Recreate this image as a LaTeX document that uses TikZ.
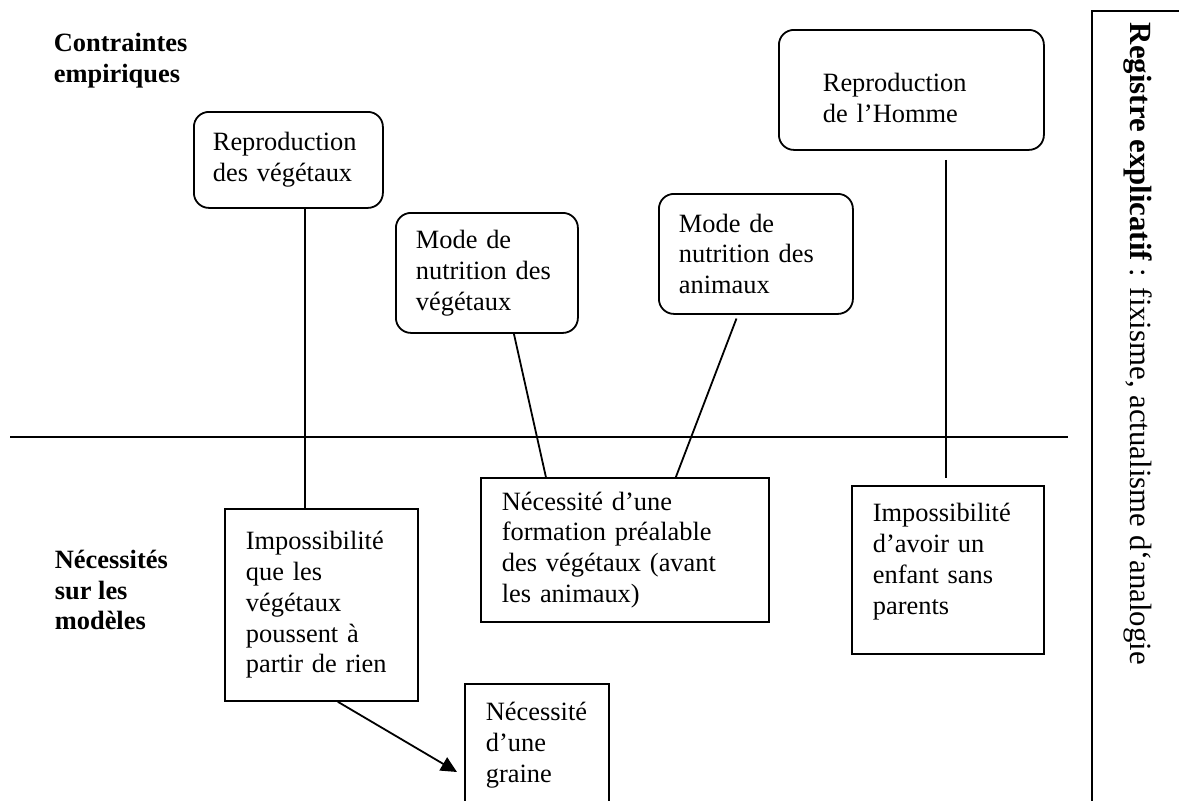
\documentclass[tikz,border=0pt]{standalone}
\usepackage{fontspec}
\setmainfont{Liberation Serif}
\usepackage{tikz}
\usetikzlibrary{arrows.meta}

\newcommand{\cadrefont}{\fontsize{26.4}{30.8}\selectfont}
\newcommand{\registrefont}{\fontsize{30.8}{36}\selectfont}

\begin{document}
\begin{tikzpicture}[
    x=1pt, y=-1pt,
    line width=1.8pt,
    empirique/.style={draw, rounded corners=15pt, anchor=north west,
                      inner sep=0pt, align=left, font=\cadrefont},
    necessite/.style={draw, anchor=north west, inner sep=0pt,
                      align=left, font=\cadrefont},
    row_label/.style={anchor=west, inner sep=0pt, align=left,
                      font=\cadrefont\bfseries},
    link/.style={-},
    implies/.style={-{Triangle[length=16pt,width=15pt]}},
]
\useasboundingbox (0,0) rectangle (1179,801);
\clip (0,0) rectangle (1179,801);

% Row labels
\node[row_label] (contraintes) at (53,61) {Contraintes\\empiriques};
\node[row_label] (necessites) at (54,590) {Nécessités\\sur les\\modèles};

% Empirical constraints (upper row)
\node[empirique, minimum width=189pt, minimum height=96pt, text width=151pt]
    (repveg) at (193,111) {Reproduction\\des végétaux};
\node[empirique, minimum width=182pt, minimum height=120pt, text width=142pt]
    (nutveg) at (395,212) {Mode de\\nutrition des\\végétaux};
\node[empirique, minimum width=194pt, minimum height=120pt, text width=154pt]
    (nutani) at (658,193) {Mode de\\nutrition des\\animaux};
\node[empirique, minimum width=265pt, minimum height=120pt, text width=177pt]
    (rephom) at (778,29) {\rule{0pt}{34pt}Reproduction\\de l’Homme};

% Separator
\draw (10,437) -- (1068,437);

% Necessities on the models (lower row)
\node[necessite, minimum width=193pt, minimum height=192pt, text width=151pt]
    (impveg) at (224,508)
    {Impossibilité\\que les\\végétaux\\poussent à\\partir de rien};
\node[necessite, minimum width=288pt, minimum height=144pt, text width=246pt]
    (formation) at (480,477)
    {Nécessité d’une\\formation préalable\\des végétaux (avant\\les animaux)};
\node[necessite, minimum width=192pt, minimum height=168pt, text width=150pt]
    (impenf) at (851,485)
    {Impossibilité\\d’avoir un\\enfant sans\\parents\rule[-22pt]{0pt}{22pt}};
\node[necessite, minimum width=144pt, minimum height=122pt, text width=102pt]
    (graine) at (464,683) {Nécessité\\d’une\\graine};

% Links between the rows
\draw[link] ([xshift=16.5pt]repveg.south) -- ([xshift=-16.5pt]impveg.north);
\draw[link] ([xshift=27pt]nutveg.south) -- ([xshift=-79pt]formation.north);
\draw[link, shorten <=4pt] ([xshift=-18pt]nutani.south)
    -- ([xshift=51pt]formation.north);
\draw[link, shorten <=9pt, shorten >=7pt] ([xshift=34.5pt]rephom.south)
    -- ([xshift=-2pt]impenf.north);
\draw[implies] ([xshift=16.5pt]impveg.south)
    -- ([xshift=-7pt,yshift=-89pt]graine.north west);

% Explanatory register
\draw (1092,830) -- (1092,11) -- (1200,11);
\node[rotate=-90, anchor=base west, inner sep=0pt, font=\registrefont]
    (registre) at (1130,22)
    {\textbf{Registre explicatif} : fixisme, actualisme d‘analogie};

\end{tikzpicture}
\end{document}
